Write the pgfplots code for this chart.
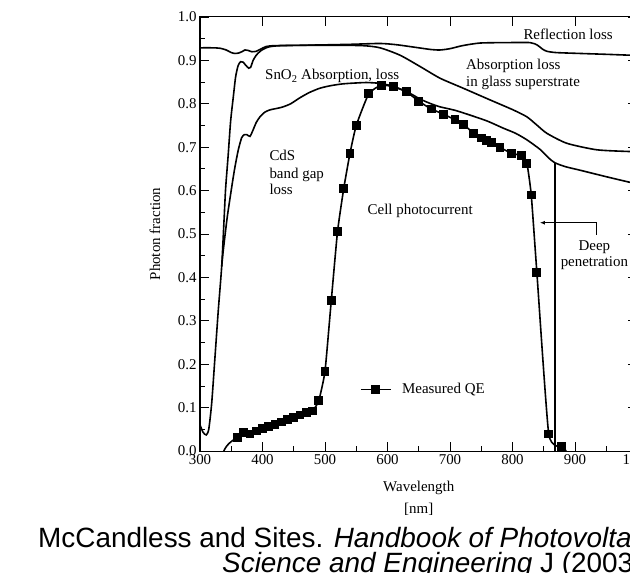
\documentclass[border=0pt]{standalone}
\usepackage{fontspec}
\setmainfont{Liberation Serif}
\newfontfamily\capfont{Liberation Sans}
\usepackage{pgfplots}
\pgfplotsset{compat=1.18}
\usetikzlibrary{arrows.meta}
\newcommand{\chfont}{\fontsize{15}{17.5}\selectfont}
\begin{document}
\begin{tikzpicture}
\useasboundingbox (-200bp,-122bp) rectangle (430bp,451bp);
\begin{scope}
\clip (-200bp,-122bp) rectangle (430bp,451bp);
\begin{axis}[
  at={(0bp,0bp)}, anchor=south west,
  scale only axis, width=437.5bp, height=434bp,
  xmin=300, xmax=1000, ymin=0, ymax=1,
  xtick={300,400,...,1000}, ytick={0,0.1,...,1.0},
  minor x tick num=1, minor y tick num=1,
  xtick pos=left, ytick pos=left,
  tick align=inside,
  major tick length=9bp, minor tick length=5bp,
  every tick/.style={black, line width=0.8bp},
  axis line style={line width=1bp},
  tick label style={font=\chfont},
  label style={font=\chfont},
  /pgf/number format/assume math mode=true,
  /pgf/number format/1000 sep={},
  yticklabel style={/pgf/number format/.cd, fixed, fixed zerofill, precision=1},
  xlabel={Wavelength\\{[nm]}},
  xlabel style={align=center, font=\fontsize{15}{21.5}\selectfont, at={(axis description cs:0.5,0)}, anchor=north, yshift=-27bp},
  ylabel={Photon fraction},
  ylabel style={at={(axis description cs:-0.1029,0.5)}, anchor=center},
  legend image code/.code={\draw[mark repeat=2,mark phase=2] plot coordinates {(0bp,0bp) (15bp,0bp) (30bp,0bp)};},
  legend style={at={(axis cs:556,0.142)}, anchor=west, draw=none, fill=none,
    inner sep=0pt, outer sep=0pt, column sep=10.5bp, font=\chfont, nodes={inner sep=0pt}},
]
% Reflection (top) line
\addplot[forget plot, black, line width=1.6bp, smooth, tension=0.4] coordinates {
(300,0.929) (320,0.929) (332,0.928) (342,0.924) (350,0.918) (356,0.916) (362,0.917)
(367,0.920) (372,0.924) (377,0.923) (383,0.920) (390,0.921) (397,0.926) (406,0.932)
(420,0.934) (470,0.935) (540,0.937) (588,0.939) (615,0.936) (645,0.930) (670,0.925)
(684,0.924) (700,0.927) (720,0.934) (748,0.940) (790,0.941) (828,0.941) (840,0.935)
(848,0.926) (855,0.921) (870,0.918) (908,0.916) (950,0.914) (988,0.912) (1000,0.912)};
% Glass transmission line
\addplot[forget plot, black, line width=1.6bp, smooth, tension=0.4] coordinates {
(300,0.060) (305,0.043) (310,0.037) (314,0.050) (318.7,0.110) (324,0.217) (329.3,0.325)
(334.7,0.425) (338.4,0.530) (341,0.605) (345,0.680) (349,0.760) (353.3,0.816) (357,0.862)
(361,0.888) (365,0.897) (369,0.896) (373,0.889) (378,0.882) (381,0.884) (385,0.900)
(390,0.912) (398,0.923) (410,0.931) (430,0.934) (500,0.935) (560,0.934) (588,0.929)
(620,0.912) (652,0.886) (684,0.859) (721,0.836) (764,0.809) (801,0.786) (823,0.770)
(839,0.751) (855,0.732) (887,0.709) (935,0.694) (988,0.690) (1000,0.690)};
% CdS line
\addplot[forget plot, black, line width=1.6bp, smooth, tension=0.4] coordinates {
(334.7,0.425) (337.3,0.463) (343.7,0.540) (351.7,0.617) (356,0.655) (361.3,0.694)
(366.7,0.722) (371,0.729) (375,0.729) (380,0.725) (385,0.740) (390,0.757) (396,0.770)
(404,0.781) (412,0.786) (425,0.790) (433,0.793) (445,0.800) (460,0.814) (475,0.826)
(492,0.836) (510,0.842) (529,0.846) (550,0.848) (567,0.849) (588,0.847) (610,0.840)
(636,0.824) (652,0.811) (668,0.801) (684,0.793) (708,0.785) (732,0.774) (760,0.760)
(785,0.744) (805,0.732) (823,0.717) (844,0.695) (858,0.675) (868,0.664) (885,0.655)
(908,0.647) (950,0.632) (988,0.619) (1000,0.615)};
% Band-gap vertical line
\addplot[forget plot, black, line width=1.6bp] coordinates {(868,0) (868,0.664)};
% QE line ends (unmarked)
\addplot[forget plot, black, line width=1.6bp, smooth, tension=0.4] coordinates {
(338,0) (342,0.010) (347,0.018) (353,0.025) (360,0.032)};
\addplot[forget plot, black, line width=1.6bp] coordinates {(879,0.010) (886,0)};
% Measured QE
\addplot[black, line width=1.6bp, smooth, tension=0.3, mark=square*, mark size=3.6bp,
  mark options={solid, fill=black}] coordinates {
(360,0.032) (370,0.042) (380,0.039) (390,0.046) (400,0.051) (410,0.056) (420,0.061)
(430,0.067) (440,0.072) (450,0.078) (460,0.083) (470,0.089) (480,0.092) (490,0.116)
(500,0.184) (510,0.346) (520,0.505) (530,0.605) (540,0.686) (550,0.750) (570,0.823)
(590,0.843) (610,0.839) (630,0.828) (650,0.806) (670,0.788) (690,0.776) (708,0.763)
(721,0.753) (738,0.732) (751,0.721) (759,0.715) (767,0.710) (780,0.699) (799,0.686)
(815,0.680) (823,0.663) (830,0.590) (839,0.411) (858,0.039) (879,0.010)};
\addlegendentry{Measured QE}
% Annotations
\node[font=\chfont, anchor=base west, inner sep=0pt] at (axis cs:817.3,0.949) {Reflection loss};
\node[font=\chfont, anchor=base west, inner sep=0pt] at (axis cs:404,0.855) {SnO\textsubscript{2} Absorption, loss};
\node[font=\chfont, anchor=base west, inner sep=0pt] at (axis cs:725.6,0.878) {Absorption loss};
\node[font=\chfont, anchor=base west, inner sep=0pt] at (axis cs:725.6,0.841) {in glass superstrate};
\node[font=\chfont, anchor=base west, inner sep=0pt] at (axis cs:410.9,0.6705) {CdS};
\node[font=\chfont, anchor=base west, inner sep=0pt] at (axis cs:410.9,0.628) {band gap};
\node[font=\chfont, anchor=base west, inner sep=0pt] at (axis cs:410.9,0.591) {loss};
\node[font=\chfont, anchor=base west, inner sep=0pt] at (axis cs:568,0.545) {Cell photocurrent};
\node[font=\chfont, anchor=base, inner sep=0pt] at (axis cs:931,0.463) {Deep};
\node[font=\chfont, anchor=base, inner sep=0pt] at (axis cs:931,0.426) {penetration};
\draw[line width=0.8bp, -{Latex[length=5bp,width=4bp]}] (axis cs:934.7,0.498) -- (axis cs:934.7,0.526) -- (axis cs:844,0.526);
\end{axis}
\begin{axis}[
  at={(0bp,0bp)}, anchor=south west,
  scale only axis, width=437.5bp, height=434bp,
  xmin=300, xmax=1000, ymin=0, ymax=1,
  xtick={300,400,...,1000}, ytick={0,0.1,...,1.0},
  xtick pos=right, ytick pos=right,
  xticklabels={}, yticklabels={},
  tick align=inside,
  major tick length=9bp,
  every tick/.style={black, line width=0.8bp},
  axis line style={line width=1bp},
]
\end{axis}
\node[font=\capfont\fontsize{28}{32}\selectfont, anchor=base west, inner sep=0pt] at (-162bp,-96bp) {McCandless and Sites. \textit{Handbook of Photovoltaic}};
\node[font=\capfont\fontsize{28}{32}\selectfont, anchor=base west, inner sep=0pt] at (22bp,-121bp) {\textit{Science and Engineering} J (2003)};
\end{scope}
\end{tikzpicture}
\end{document}
